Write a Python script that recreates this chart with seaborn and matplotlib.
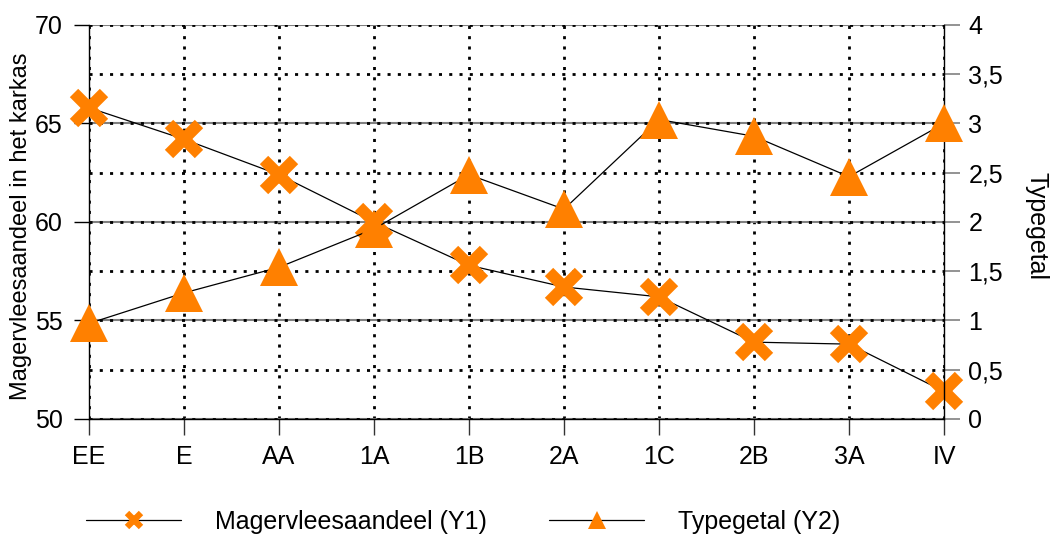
import numpy as np
import pandas as pd
import seaborn as sns
import matplotlib.pyplot as plt
from matplotlib.lines import Line2D

sns.set_style("white")
plt.rcParams["font.family"] = ["Liberation Sans", "DejaVu Sans"]
plt.rcParams["text.color"] = "black"
plt.rcParams["axes.labelcolor"] = "black"
plt.rcParams["xtick.color"] = "black"
plt.rcParams["ytick.color"] = "black"

# Carcass classes and their values
categories = ["EE", "E", "AA", "1A", "1B", "2A", "1C", "2B", "3A", "IV"]
lean_share = [65.8, 64.2, 62.4, 60.0, 57.8, 56.7, 56.2, 53.9, 53.8, 51.4]
type_score = [0.97, 1.28, 1.54, 1.93, 2.48, 2.13, 3.04, 2.87, 2.46, 3.0]

y1_ticks = [50, 55, 60, 65, 70]
y2_ticks = [0, 0.5, 1, 1.5, 2, 2.5, 3, 3.5, 4]
y2_labels = ["0", "0,5", "1", "1,5", "2", "2,5", "3", "3,5", "4"]

label_y1 = "Magervleesaandeel (Y1)"
label_y2 = "Typegetal (Y2)"

ORANGE = "#FF8000"
FS = 18
DOTS = (0, (1.1, 2.6))

df = pd.DataFrame({
    "pos": np.arange(len(categories)),
    "klasse": categories,
    "mager": lean_share,
    "type": type_score,
})

fig = plt.figure(figsize=(10.53, 5.36), dpi=100)
ax = fig.add_axes([0.0845, 0.2183, 0.812, 0.7351])
ax2 = ax.twinx()

# left axis: lean meat share
sns.lineplot(data=df, x="pos", y="mager", ax=ax, color="black", lw=0.9,
             marker="x", markersize=21, markeredgewidth=8.5,
             markeredgecolor=ORANGE, clip_on=False, zorder=3)

# right axis: type score
sns.lineplot(data=df, x="pos", y="type", ax=ax2, color="black", lw=0.9,
             marker="^", markersize=28, markeredgewidth=0,
             markerfacecolor=ORANGE, clip_on=False, zorder=3)

ax.set_xlim(0, len(categories) - 1)
ax.set_xticks(df["pos"])
ax.set_xticklabels(categories, fontsize=FS)
ax.set_ylim(y1_ticks[0], y1_ticks[-1])
ax.set_yticks(y1_ticks)
ax.set_yticklabels([str(t) for t in y1_ticks], fontsize=FS)

ax2.set_ylim(y2_ticks[0], y2_ticks[-1])
ax2.set_yticks(y2_ticks)
ax2.set_yticklabels(y2_labels, fontsize=FS)

# gridlines: solid grey on the left-axis steps, dotted on every half step of the right axis
ax.yaxis.remove_overlapping_locs = False
ax.set_yticks(np.arange(y1_ticks[0], y1_ticks[-1] + 0.01, 2.5), minor=True)
ax.set_axisbelow(True)
ax.grid(axis="y", which="major", color="#808080", lw=1.5, ls="-")
ax.grid(axis="y", which="minor", color="black", lw=2.0, ls=DOTS)
ax.grid(axis="x", which="major", color="black", lw=2.0, ls=DOTS)
ax2.grid(False)

ax.tick_params(axis="y", which="major", direction="out", length=11, width=1,
               color="black", pad=8, left=True)
ax.tick_params(axis="y", which="minor", length=0)
ax.tick_params(axis="x", direction="out", length=11.5, width=1,
               color="#333333", pad=7, bottom=True)
ax2.tick_params(axis="y", direction="out", length=11.5, width=1.2,
                color="#808080", pad=6, right=True)

for s in ["left", "bottom"]:
    ax.spines[s].set_color("black")
    ax.spines[s].set_linewidth(1)
ax.spines["top"].set_visible(False)
ax.spines["right"].set_visible(False)
for s in ["left", "bottom", "top"]:
    ax2.spines[s].set_visible(False)
ax2.spines["right"].set_color("black")
ax2.spines["right"].set_linewidth(1)

ax.set_xlabel("")
ax.set_ylabel("Magervleesaandeel in het karkas", fontsize=17)
ax.yaxis.set_label_coords(-0.067, 0.49)
ax2.set_xlabel("")
ax2.set_ylabel("Typegetal", fontsize=FS, rotation=270, va="center")
ax2.yaxis.set_label_coords(1.108, 0.49)

handles = [
    Line2D([], [], color="black", lw=0.9, marker="x", markersize=10,
           markeredgewidth=4.5, markeredgecolor=ORANGE),
    Line2D([], [], color="black", lw=0.9, marker="^", markersize=13,
           markeredgewidth=0, markerfacecolor=ORANGE),
]
fig.legend(handles, [label_y1, label_y2], loc="center left",
           bbox_to_anchor=(86 / 1053, 1 - 522 / 536), ncol=2, frameon=False,
           fontsize=FS, handlelength=3.8, handletextpad=1.35,
           columnspacing=2.5, borderpad=0, borderaxespad=0)

fig.savefig("out.png", dpi=100)
